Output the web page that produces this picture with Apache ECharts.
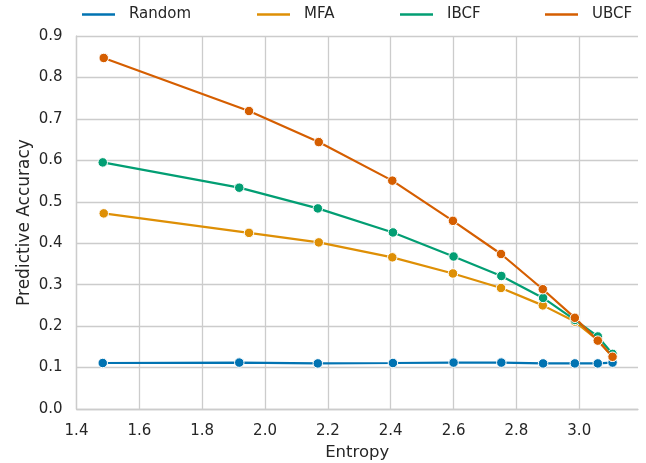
<!DOCTYPE html>
<html>
<head>
<meta charset="utf-8">
<script src="https://cdn.jsdelivr.net/npm/echarts@6/dist/echarts.min.js"></script>
<style>html,body{margin:0;padding:0;background:#fff}#c{width:646px;height:463px}</style>
</head>
<body>
<div id="c"></div>
<script>
const seriesNames = ['Random', 'MFA', 'IBCF', 'UBCF'];
const colors = ['#0173B2', '#DE8F05', '#029E73', '#D55E00'];
const xTicksMin = 1.4, xTicksMax = 3.187;
const randomX = [1.4835, 1.918, 2.168, 2.407, 2.600, 2.752, 2.885, 2.986, 3.059, 3.106];
const randomY = [0.111, 0.112, 0.110, 0.111, 0.112, 0.112, 0.110, 0.110, 0.110, 0.112];
const mfaX = [1.4867, 1.949, 2.171, 2.405, 2.598, 2.751, 2.884, 2.986, 3.059, 3.106];
const mfaY = [0.472, 0.425, 0.402, 0.366, 0.327, 0.292, 0.250, 0.211, 0.166, 0.126];
const ibcfX = [1.4835, 1.918, 2.168, 2.407, 2.600, 2.752, 2.885, 2.986, 3.059, 3.106];
const ibcfY = [0.595, 0.534, 0.484, 0.426, 0.368, 0.321, 0.268, 0.215, 0.175, 0.133];
const ubcfX = [1.4867, 1.949, 2.171, 2.405, 2.598, 2.751, 2.884, 2.986, 3.059, 3.106];
const ubcfY = [0.847, 0.719, 0.644, 0.551, 0.454, 0.374, 0.289, 0.220, 0.165, 0.126];

const xs = [randomX, mfaX, ibcfX, ubcfX];
const ys = [randomY, mfaY, ibcfY, ubcfY];
const font = 'DejaVu Sans';
const textColor = '#262626';
const gridColor = '#cccccc';

const chart = echarts.init(document.getElementById('c'));
const legendLefts = [82, 257, 400, 545];
const legends = seriesNames.map((n, i) => ({
  data: [n], left: legendLefts[i], top: 7, icon: 'rect', itemWidth: 33, itemHeight: 2.5,
  itemGap: 0, padding: 0,
  itemStyle: { borderWidth: 0, color: colors[i] },
  textStyle: { fontFamily: font, fontSize: 15, color: textColor, padding: [0, 0, 0, 9] }
}));
chart.setOption({
  animation: false,
  backgroundColor: '#fff',
  legend: legends,
  grid: { left: 76.5, right: 8, top: 36, bottom: 54, containLabel: false, outerBoundsMode: 'none' },
  xAxis: {
    type: 'value', min: xTicksMin, max: xTicksMax, interval: 0.2,
    name: 'Entropy', nameLocation: 'middle', nameGap: 35, nameMoveOverlap: false,
    nameTextStyle: { fontFamily: font, fontSize: 16.5, color: textColor },
    axisLine: { show: true, lineStyle: { color: gridColor, width: 1.3 } },
    axisTick: { show: false },
    axisLabel: { fontFamily: font, fontSize: 15, color: textColor, margin: 15, showMaxLabel: false,
      formatter: v => v.toFixed(1) },
    splitLine: { show: true, showMaxLine: false, lineStyle: { color: gridColor, width: 1.3 } }
  },
  yAxis: {
    type: 'value', min: 0, max: 0.9, interval: 0.1,
    name: 'Predictive Accuracy', nameLocation: 'middle', nameGap: 43, nameMoveOverlap: false,
    nameTextStyle: { fontFamily: font, fontSize: 17, color: textColor },
    axisLine: { show: true, lineStyle: { color: gridColor, width: 1.3 } },
    axisTick: { show: false },
    axisLabel: { fontFamily: font, fontSize: 15, color: textColor, margin: 14,
      formatter: v => v.toFixed(1) },
    splitLine: { show: true, lineStyle: { color: gridColor, width: 1.3 } }
  },
  series: seriesNames.map((n, i) => ({
    name: n, type: 'line', z: 2 + i,
    data: xs[i].map((x, j) => [x, ys[i][j]]),
    symbol: 'circle', symbolSize: 9.5,
    itemStyle: { color: colors[i], borderColor: '#fff', borderWidth: 1 },
    lineStyle: { color: colors[i], width: 2.2 },
    emphasis: { disabled: true }
  }))
});
</script>
</body>
</html>
